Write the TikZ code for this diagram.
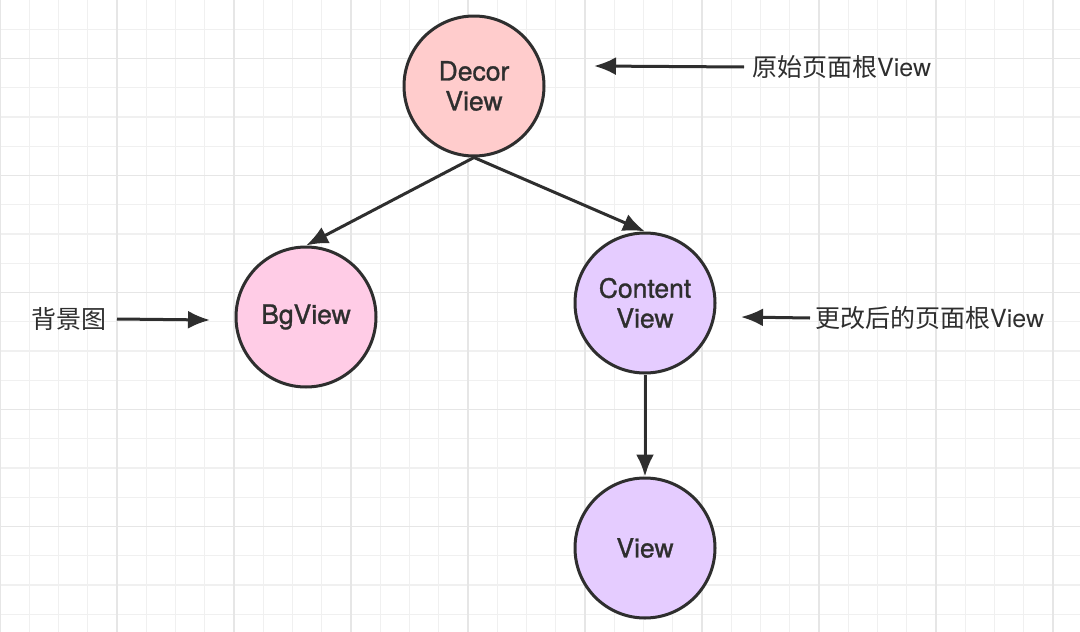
\documentclass[tikz,border=0pt]{standalone}
\usepackage{fontspec}
\setmainfont{TeX Gyre Heros}
\newfontfamily\nodefont{TeX Gyre Heros}[FakeBold=1.1]
\newfontfamily\cjk{Noto Sans CJK SC}
\usetikzlibrary{arrows.meta}

\definecolor{gridminor}{HTML}{F0F0F0}
\definecolor{gridmajor}{HTML}{E6E6E6}
\definecolor{txt}{HTML}{2E2E2E}
\definecolor{decorfill}{HTML}{FFCCCC}
\definecolor{bgfill}{HTML}{FFCCE6}
\definecolor{contentfill}{HTML}{E5CCFF}

\begin{document}
\begin{tikzpicture}[x=1pt, y=-1pt,
    viewnode/.style={circle, draw=txt, line width=3pt, minimum size=140pt,
                     inner sep=0pt, align=center, text=txt, font=\nodefont\fontsize{26.5}{30}\selectfont},
    link/.style={draw=txt, line width=3pt, -{Latex[length=22pt,width=18pt]}},
    note/.style={text=txt, font=\fontsize{25}{30}\selectfont, inner sep=0pt}]
    \useasboundingbox (0,0) rectangle (1080,632);
    \fill[white] (0,0) rectangle (1080,632);

    % Draw grid
    \foreach \i in {0,...,37} {
        \draw[gridminor, line width=1.2pt] ({\i*29.25},0) -- ({\i*29.25},632);
    }
    \foreach \i in {-1,...,21} {
        \draw[gridminor, line width=1.2pt] (0,{58.5+\i*29.25}) -- (1080,{58.5+\i*29.25});
    }
    \foreach \i in {0,...,9} {
        \draw[gridmajor, line width=1.4pt] ({\i*117},0) -- ({\i*117},632);
    }
    \foreach \i in {0,...,5} {
        \draw[gridmajor, line width=1.4pt] (0,{58.5+\i*117}) -- (1080,{58.5+\i*117});
    }

    % Draw nodes
    \node[viewnode, fill=decorfill] (decor) at (474,86) {Decor\\View};
    \node[viewnode, fill=bgfill] (bg) at (306,317) {BgView};
    \node[viewnode, fill=contentfill] (content) at (645,303) {Content\\View};
    \node[viewnode, fill=contentfill] (view) at (645,548) {View};

    % Draw connections
    \draw[link] (decor.south) -- (bg.north);
    \draw[link] (decor.south) -- (content.north);
    \draw[link] (content.south) -- (view.north);

    % Labels
    \node[note, anchor=west] (origlabel) at (752,67) {{\cjk 原始页面根}View};
    \node[note, anchor=east] (bglabel) at (107,319) {\cjk 背景图};
    \node[note, anchor=west] (newlabel) at (815,318) {{\cjk 更改后的页面根}View};
    \coordinate (origtip) at (594,66);
    \coordinate (bgtip) at (210,320);
    \coordinate (newtip) at (741,317);
    \draw[link] ([xshift=-8pt]origlabel.west) -- (origtip);
    \draw[link] ([xshift=10pt]bglabel.east) -- (bgtip);
    \draw[link] ([xshift=-5pt]newlabel.west) -- (newtip);
\end{tikzpicture}
\end{document}
